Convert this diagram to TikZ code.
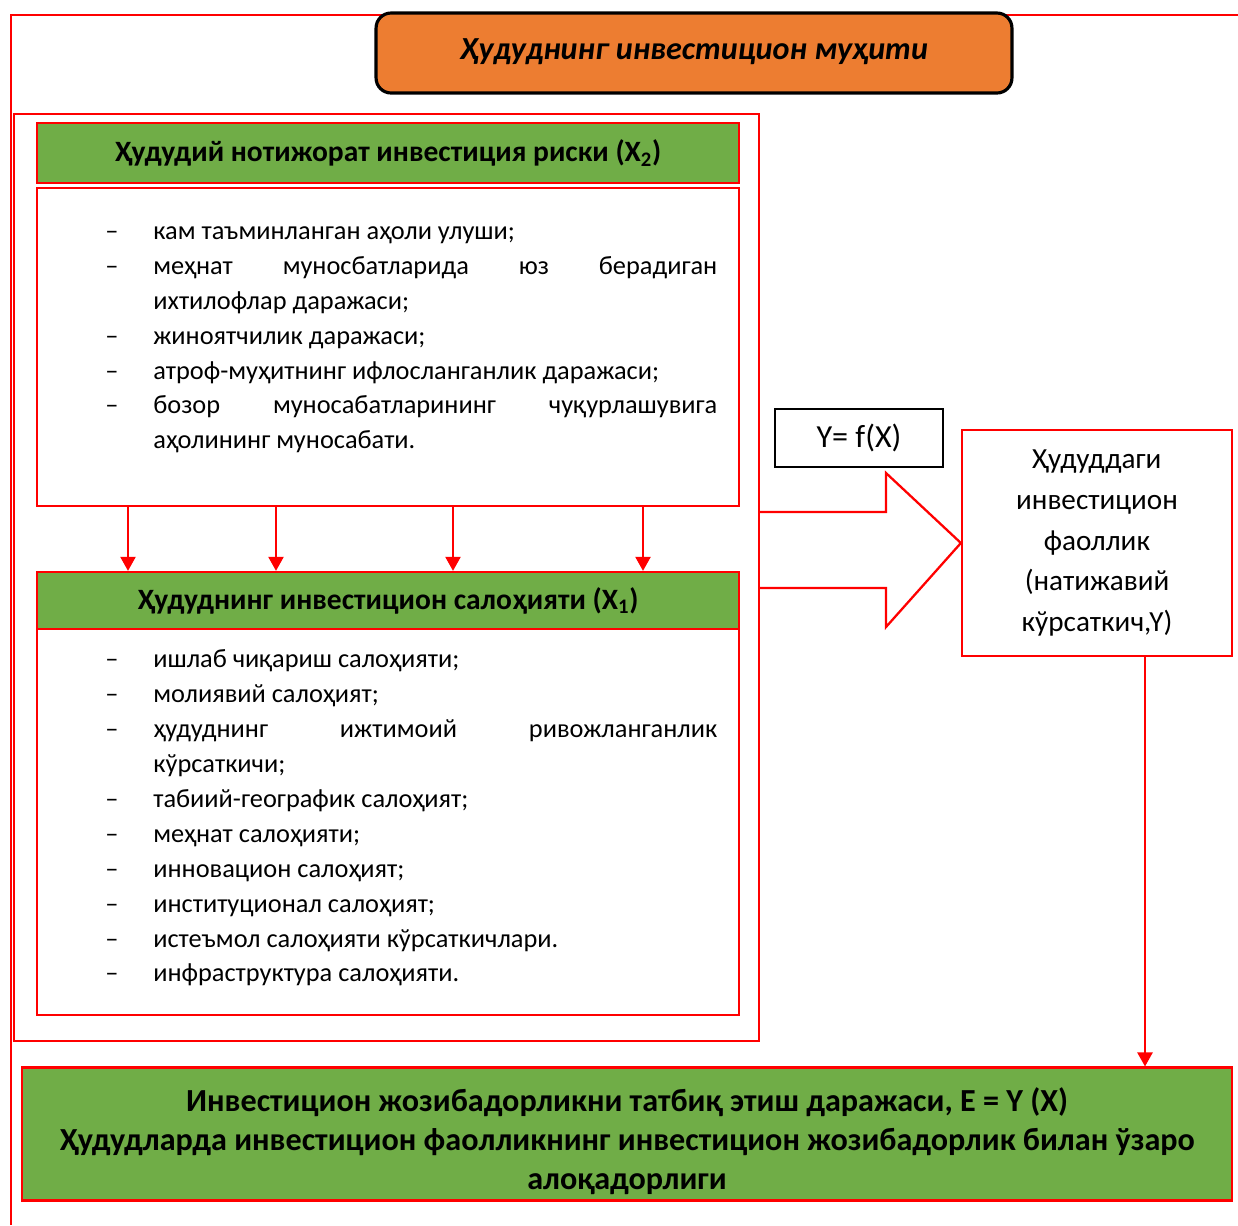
\documentclass[tikz,border=0pt]{standalone}
\usepackage{fontspec}
\setmainfont{Carlito}
\usetikzlibrary{arrows.meta}
\definecolor{boxgreen}{RGB}{112,173,71}
\definecolor{boxorange}{RGB}{237,125,49}
% one list item with a dash and a hanging indent
\newcommand{\dashitem}[1]{\noindent\hangindent=0.96cm\hangafter=1\makebox[0.96cm][l]{–}#1\par}
\begin{document}
\begin{tikzpicture}[x=0.02cm, y=-0.02cm,
	redline/.style={draw=red, line width=1.3pt},
	greenhead/.style={redline, fill=boxgreen, inner sep=0, font=\fontsize{16.8}{20}\selectfont\bfseries},
	listbox/.style={redline, inner sep=0},
	listtext/.style={inner sep=0, text width=12.24cm, align=justify, anchor=north west, font=\fontsize{15}{19.9}\selectfont},
	redarrow/.style={draw=red, line width=1.3pt, -{Triangle[width=0.3cm, length=0.28cm]}}]
	\useasboundingbox (0,0) rectangle (1238,1225);
	% open outer frame
	\draw[redline] (1238,15) -- (11,15) -- (11,1225);
	% title
	\node[draw=black, line width=1.8pt, rounded corners=0.3cm, fill=boxorange, minimum width=12.72cm, minimum height=1.6cm, font=\fontsize{18.3}{22}\selectfont\bfseries\itshape] (title) at (694,53) {\raisebox{0.16cm}{Ҳудуднинг инвестицион муҳити}};
	% inner frame round both blocks
	\draw[redline] (14,114) rectangle (759,1041);
	% risk block
	\node[greenhead, minimum width=14.04cm, minimum height=1.2cm] (riskhead) at (388,153) {Ҳудудий нотижорат инвестиция риски (X\textsubscript{2})};
	\node[listbox, minimum width=14.04cm, minimum height=6.36cm] (risklist) at (388,347) {};
	\node[listtext] (risktext) at (105,226) {%
		\dashitem{кам таъминланган аҳоли улуши;}
		\dashitem{меҳнат муносбатларида юз берадиган\linebreak ихтилофлар даражаси;}
		\dashitem{жиноятчилик даражаси;}
		\dashitem{атроф-муҳитнинг ифлосланганлик даражаси;}
		\dashitem{бозор муносабатларининг чуқурлашувига аҳолининг муносабати.}};
	% potential block
	\node[greenhead, minimum width=14.04cm, minimum height=1.14cm] (potenhead) at (388,600.5) {Ҳудуднинг инвестицион салоҳияти (X\textsubscript{1})};
	\node[listbox, minimum width=14.04cm, minimum height=7.72cm] (potenlist) at (388,822) {};
	\node[listtext] (potentext) at (105,649) {%
		\dashitem{ишлаб чиқариш салоҳияти;}
		\dashitem{молиявий салоҳият;}
		\dashitem{ҳудуднинг ижтимоий ривожланганлик кўрсаткичи;}
		\dashitem{табиий-географик салоҳият;}
		\dashitem{меҳнат салоҳияти;}
		\dashitem{инновацион салоҳият;}
		\dashitem{институционал салоҳият;}
		\dashitem{истеъмол салоҳияти кўрсаткичлари.}
		\dashitem{инфраструктура салоҳияти.}};
	% arrows from risks to potential
	\def\arrowxs {128,276,453,643};
	\foreach \x in \arrowxs
	{
		\draw[redarrow] (risklist.south -| \x,0) -- (potenhead.north -| \x,0);
	}
	% model and result of activity
	\node[draw=black, line width=1.4pt, minimum width=3.36cm, minimum height=1.16cm, font=\fontsize{18.3}{22}\selectfont] (model) at (859,438) {Y= f(X)};
	\node[redline, minimum width=5.4cm, minimum height=4.52cm, align=center, font=\fontsize{16.6}{23.3}\selectfont] (activity) at (1097,543) {Ҳудуддаги\\инвестицион\\фаоллик\\(натижавий\\кўрсаткич,Y)};
	% block arrow
	\draw[redline, line join=miter] (759,512) -- (886,512) -- (886,473) -- (activity.west) -- (886,627) -- (886,588) -- (759,588);
	% bottom result
	\node[redline, fill=boxgreen, minimum width=24.2cm, minimum height=2.64cm, font=\fontsize{18.3}{22.2}\selectfont\bfseries] (result) at (627,1134) {\parbox{23.6cm}{\vspace*{0.28cm}\centering Инвестицион жозибадорликни татбиқ этиш даражаси, E = Y (X)\\Ҳудудларда инвестицион фаолликнинг инвестицион жозибадорлик билан ўзаро\\алоқадорлиги}};
	\draw[redarrow] (activity.south -| 1145,0) -- (result.north -| 1145,0);
\end{tikzpicture}
\end{document}
